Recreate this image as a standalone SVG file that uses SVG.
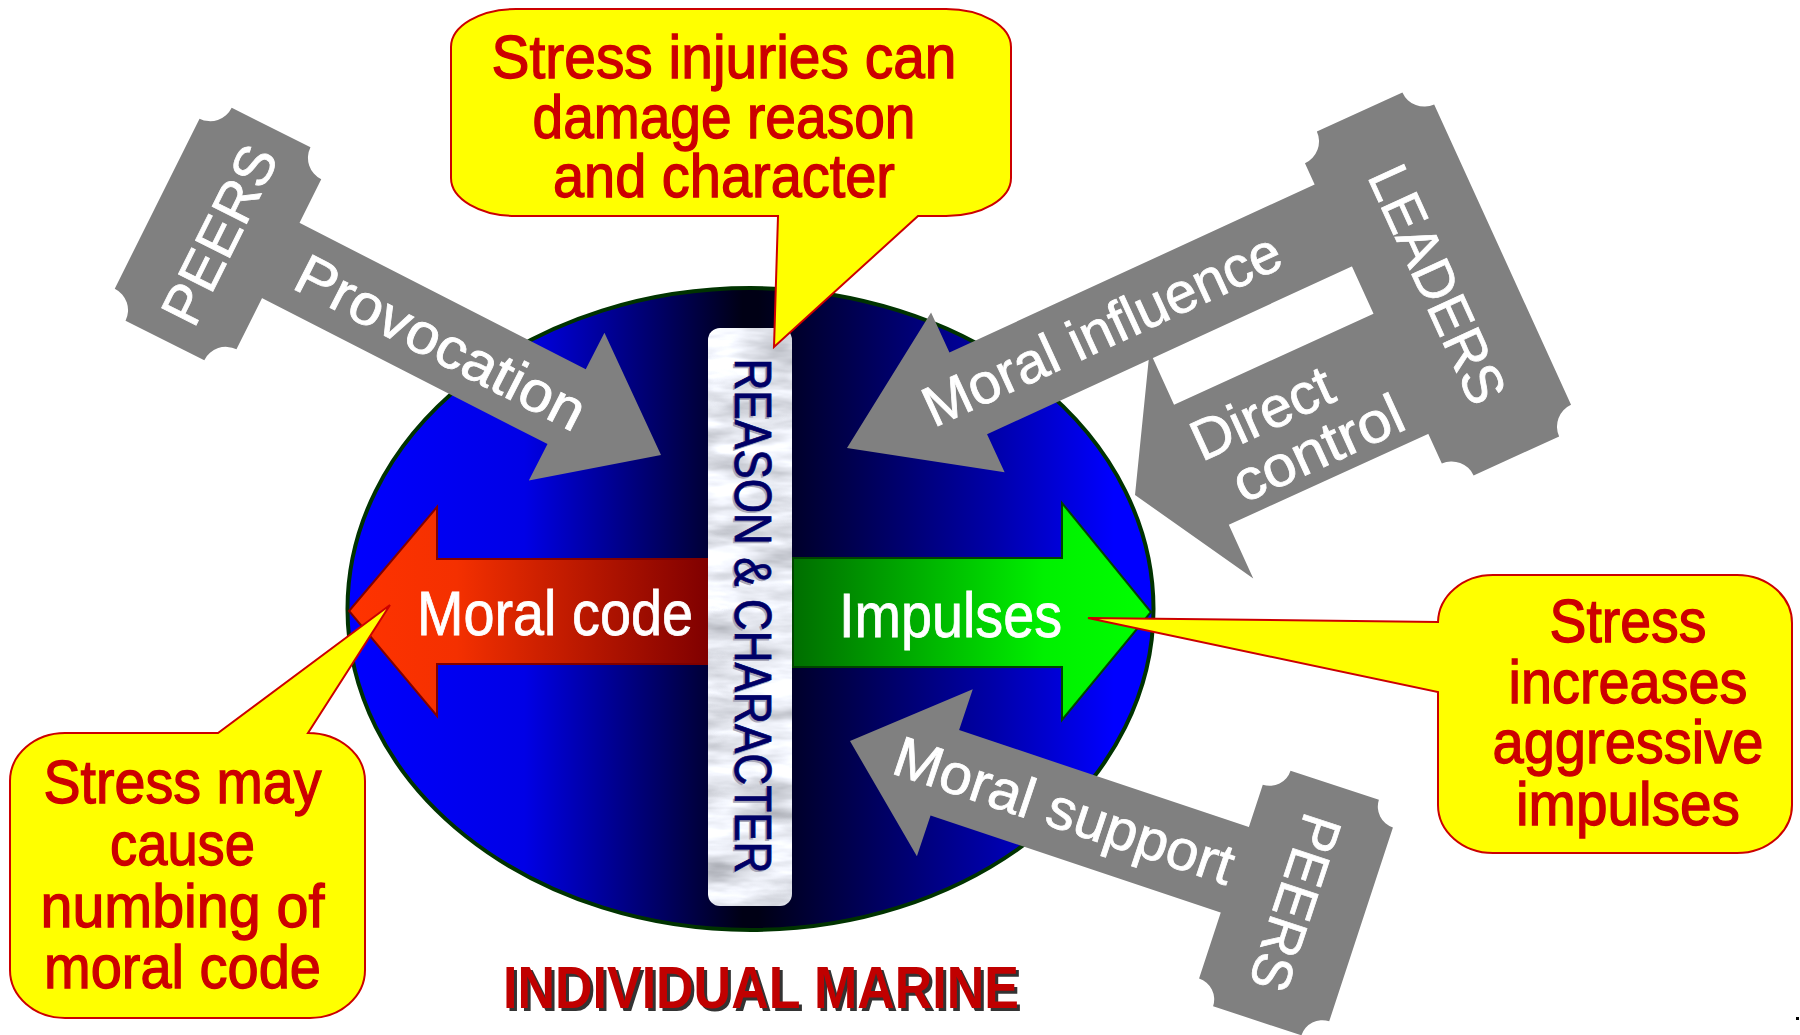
<svg xmlns="http://www.w3.org/2000/svg" width="1800" height="1035" viewBox="0 0 1800 1035">
<style>
  .txt { font-family: "Liberation Sans Narrow", "Liberation Sans", Arial, sans-serif; }
  .wl { fill: #FFFFFF; font-size: 57px; stroke: #FFFFFF; stroke-width: 0.8; }
  .sign { fill: #808080; }
  .arrow { fill: #808080; }
  .callout { fill: #FFFF00; stroke: #CC0000; stroke-width: 2; }
  .ct { fill: #CC0000; stroke: #CC0000; stroke-width: 1.3; font-size: 61px; text-anchor: middle; }
  .mid { text-anchor: middle; }
</style>
<defs>
  <linearGradient id="gBody" gradientUnits="userSpaceOnUse" x1="347" y1="0" x2="1154" y2="0">
    <stop offset="0" stop-color="#0000FF"/>
    <stop offset="0.22" stop-color="#0000E6"/>
    <stop offset="0.49" stop-color="#000015"/>
    <stop offset="0.51" stop-color="#000015"/>
    <stop offset="0.8" stop-color="#0000A8"/>
    <stop offset="0.95" stop-color="#0000FF"/>
    <stop offset="1" stop-color="#0000FF"/>
  </linearGradient>
  <linearGradient id="gRed" gradientUnits="userSpaceOnUse" x1="349" y1="0" x2="708" y2="0">
    <stop offset="0" stop-color="#FF3300"/>
    <stop offset="0.3" stop-color="#F43000"/>
    <stop offset="1" stop-color="#800000"/>
  </linearGradient>
  <linearGradient id="gGreen" gradientUnits="userSpaceOnUse" x1="793" y1="0" x2="1151" y2="0">
    <stop offset="0" stop-color="#006E00"/>
    <stop offset="0.7" stop-color="#00F000"/>
    <stop offset="1" stop-color="#00FF00"/>
  </linearGradient>
  <filter id="marble" x="0%" y="0%" width="100%" height="100%" color-interpolation-filters="sRGB">
    <feTurbulence type="fractalNoise" baseFrequency="0.012 0.05" numOctaves="4" seed="7" result="noise"/>
    <feColorMatrix in="noise" type="matrix" values="0.45 0.25 0 0 0.55  0.45 0.25 0 0 0.56  0.45 0.25 0 0 0.59  0 0 0 0 1" result="m"/>
    <feComposite in="m" in2="SourceGraphic" operator="in"/>
  </filter>
</defs>
<rect x="0" y="0" width="1800" height="1035" fill="#FFFFFF"/>

<g id="individual-marine">
  <ellipse cx="750.5" cy="609" rx="403" ry="321" fill="url(#gBody)" stroke="#003300" stroke-width="4"/>
  <polygon id="moral-code-arrow" points="349,611 437,507 437,559 710,559 710,664 437,664 437,716" fill="url(#gRed)" stroke="#800000" stroke-width="2"/>
  <text class="txt" x="555" y="635" font-size="63" fill="#FFFFFF" stroke="#FFFFFF" stroke-width="0.8" text-anchor="middle" textLength="276" lengthAdjust="spacingAndGlyphs">Moral code</text>
  <polygon id="impulses-arrow" points="793,558 1062,558 1062,503 1151,612 1062,720 1062,667 793,667" fill="url(#gGreen)" stroke="#004400" stroke-width="2"/>
  <text class="txt" x="950.5" y="637" font-size="63" fill="#FFFFFF" stroke="#FFFFFF" stroke-width="0.8" text-anchor="middle" textLength="223" lengthAdjust="spacingAndGlyphs">Impulses</text>
  <g id="reason-character">
    <rect x="708" y="328" width="84" height="578" rx="12" ry="12" fill="#FFFFFF" filter="url(#marble)"/>
    <g transform="translate(735,616) rotate(90)">
      <text class="txt mid" x="2" y="2" font-size="52" fill="#A8A8B8" textLength="515" lengthAdjust="spacingAndGlyphs">REASON &amp; CHARACTER</text>
      <text class="txt mid" x="0" y="0" font-size="52" fill="#000066" stroke="#000066" stroke-width="0.8" textLength="515" lengthAdjust="spacingAndGlyphs">REASON &amp; CHARACTER</text>
    </g>
  </g>
  <text class="txt mid" x="764" y="1011" font-size="60" font-weight="bold" fill="#333333" textLength="516" lengthAdjust="spacingAndGlyphs">INDIVIDUAL MARINE</text>
  <text class="txt mid" x="761" y="1008" font-size="60" font-weight="bold" fill="#C00000" textLength="516" lengthAdjust="spacingAndGlyphs">INDIVIDUAL MARINE</text>
</g>

<g id="connectors">
  <g id="provocation">
    <polygon class="arrow" transform="translate(661,455) rotate(27.1)" points="0,0 -106,-83 -106,-42 -496,-42 -496,42 -106,42 -106,83"/>
    <text class="txt wl mid" transform="translate(432,360) rotate(27.1)" textLength="318" lengthAdjust="spacingAndGlyphs">Provocation</text>
  </g>
  <g id="moral-influence">
    <polygon class="arrow" transform="translate(847,448) rotate(155.3)" points="0,0 -133,88 -133,44 -620,44 -620,-46 -133,-46 -133,-88"/>
    <text class="txt wl mid" transform="translate(1110,347) rotate(-24.7)" textLength="388" lengthAdjust="spacingAndGlyphs">Moral influence</text>
  </g>
  <g id="direct-control">
    <polygon class="arrow" transform="translate(1135,495) rotate(155.5)" points="0,0 -73,125 -73,66 -380,66 -380,-66 -73,-66 -73,-125"/>
    <text class="txt wl mid" transform="translate(1270,431) rotate(-24.5)" textLength="150" lengthAdjust="spacingAndGlyphs">Direct</text>
    <text class="txt wl mid" transform="translate(1326,466) rotate(-24.5)" textLength="182" lengthAdjust="spacingAndGlyphs">control</text>
  </g>
  <g id="moral-support">
    <polygon class="arrow" transform="translate(850,741) rotate(198.5)" points="0,0 -100,88 -100,45 -480,45 -480,-45 -100,-45 -100,-88"/>
    <text class="txt wl mid" transform="translate(1058,829) rotate(18.5)" textLength="355" lengthAdjust="spacingAndGlyphs">Moral support</text>
  </g>
</g>

<g id="peers-top" transform="translate(218,234) rotate(-63.5)">
  <path class="sign" d="M -95,-68 H 95 A 24 24 0 0 0 119,-44 V 44 A 24 24 0 0 0 95,68 H -95 A 24 24 0 0 0 -119,44 V -44 A 24 24 0 0 0 -95,-68 Z"/>
  <text class="txt mid" x="0" y="21" font-size="56" fill="#FFFFFF" stroke="#FFFFFF" stroke-width="0.8" textLength="192" lengthAdjust="spacingAndGlyphs">PEERS</text>
</g>

<g id="leaders" transform="translate(1438,284) rotate(65.5)">
  <path class="sign" d="M -165,-71 H 165 A 24 24 0 0 0 189,-47 V 47 A 24 24 0 0 0 165,71 H -165 A 24 24 0 0 0 -189,47 V -47 A 24 24 0 0 0 -165,-71 Z"/>
  <text class="txt mid" x="0" y="20" font-size="56" fill="#FFFFFF" stroke="#FFFFFF" stroke-width="0.8" textLength="255" lengthAdjust="spacingAndGlyphs">LEADERS</text>
</g>

<g id="peers-bottom" transform="translate(1296,903) rotate(108.2)">
  <path class="sign" d="M -102,-68.5 H 102 A 22 22 0 0 0 124,-46.5 V 46.5 A 22 22 0 0 0 102,68.5 H -102 A 22 22 0 0 0 -124,46.5 V -46.5 A 22 22 0 0 0 -102,-68.5 Z"/>
  <text class="txt mid" x="0" y="20" font-size="56" fill="#FFFFFF" stroke="#FFFFFF" stroke-width="0.8" textLength="182" lengthAdjust="spacingAndGlyphs">PEERS</text>
</g>

<g id="callout-top">
  <path class="callout" d="M 516,9 H 946 A 65 38 0 0 1 1011,47 V 178 A 65 38 0 0 1 946,216 H 918 L 774,347 L 778,216 H 516 A 65 38 0 0 1 451,178 V 47 A 65 38 0 0 1 516,9 Z"/>
  <text class="txt ct" x="724" y="78" textLength="465" lengthAdjust="spacingAndGlyphs">Stress injuries can</text>
  <text class="txt ct" x="724" y="138" textLength="383" lengthAdjust="spacingAndGlyphs">damage reason</text>
  <text class="txt ct" x="724" y="197" textLength="342" lengthAdjust="spacingAndGlyphs">and character</text>
</g>

<g id="callout-left">
  <path class="callout" d="M 65,733 H 218 L 390,605 L 308,733 A 57 48 0 0 1 365,781 V 970 A 55 48 0 0 1 310,1018 H 65 A 55 48 0 0 1 10,970 V 781 A 55 48 0 0 1 65,733 Z"/>
  <text class="txt ct" x="182.5" y="803" font-size="60" textLength="278" lengthAdjust="spacingAndGlyphs">Stress may</text>
  <text class="txt ct" x="182.5" y="865" font-size="60" textLength="145" lengthAdjust="spacingAndGlyphs">cause</text>
  <text class="txt ct" x="182.5" y="927" font-size="60" textLength="284" lengthAdjust="spacingAndGlyphs">numbing of</text>
  <text class="txt ct" x="182.5" y="988" font-size="60" textLength="277" lengthAdjust="spacingAndGlyphs">moral code</text>
</g>

<g id="callout-right">
  <path class="callout" d="M 1493,575 H 1737 A 55 48 0 0 1 1792,623 V 805 A 55 48 0 0 1 1737,853 H 1493 A 55 48 0 0 1 1438,805 V 692 L 1088,618 L 1438,622 A 55 48 0 0 1 1493,575 Z"/>
  <text class="txt ct" x="1628" y="642" font-size="60" textLength="157" lengthAdjust="spacingAndGlyphs">Stress</text>
  <text class="txt ct" x="1628" y="703" font-size="60" textLength="239" lengthAdjust="spacingAndGlyphs">increases</text>
  <text class="txt ct" x="1628" y="763" font-size="60" textLength="271" lengthAdjust="spacingAndGlyphs">aggressive</text>
  <text class="txt ct" x="1628" y="825" font-size="60" textLength="224" lengthAdjust="spacingAndGlyphs">impulses</text>
</g>

<rect x="1796" y="1017" width="3" height="3" fill="#000000"/>
</svg>
